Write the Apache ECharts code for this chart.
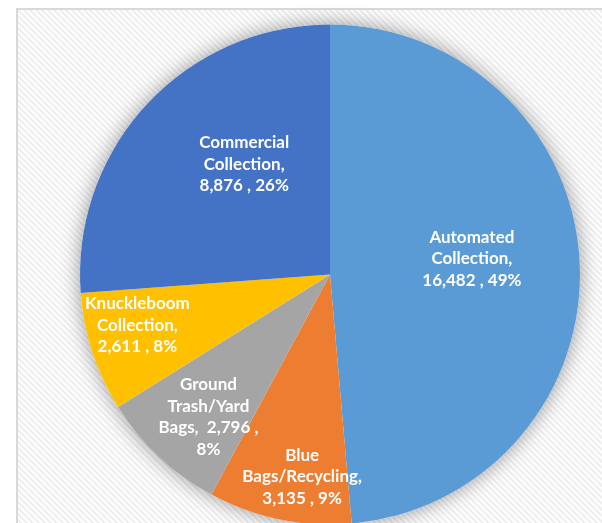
<!DOCTYPE html>
<html>
<head>
<meta charset="utf-8">
<script src="https://cdn.jsdelivr.net/npm/echarts@6/dist/echarts.min.js"></script>
<style>
html,body{margin:0;padding:0;background:#fff;}
#chart{width:602px;height:523px;}
</style>
</head>
<body>
<div id="chart"></div>
<script>
// ---- data ----
const categories = ['Automated Collection', 'Blue Bags/Recycling', 'Ground Trash/Yard Bags', 'Knuckleboom Collection', 'Commercial Collection'];
const values = [16482, 3135, 2796, 2611, 8876];
const colors = ['#5B9BD5', '#ED7D31', '#A5A5A5', '#FFC000', '#4472C4'];

// label line-break layout (how each label wraps)
const labelLines = [
  ['Automated', 'Collection,', '{v} , {p}%'],
  ['Blue', 'Bags/Recycling,', '{v} , {p}%'],
  ['Ground', 'Trash/Yard', 'Bags,  {v} ,', '{p}%'],
  ['Knuckleboom', 'Collection,', '{v} , {p}%'],
  ['Commercial', 'Collection,', '{v} , {p}%']
];
const labelShift = [[14, -10], [-2, 77], [-34, 49], [-71, 11], [8, -23]];

const total = values.reduce((a, b) => a + b, 0);

// striped background pattern
const pc = document.createElement('canvas');
pc.width = 6; pc.height = 6;
const g = pc.getContext('2d');
g.fillStyle = '#ffffff';
g.fillRect(0, 0, 6, 6);
g.strokeStyle = '#eeeeee';
g.lineWidth = 2;
g.beginPath();
g.moveTo(-1, -1); g.lineTo(7, 7);
g.moveTo(-7, -1); g.lineTo(1, 7);
g.moveTo(5, -1); g.lineTo(13, 7);
g.stroke();

const chart = echarts.init(document.getElementById('chart'), null, {renderer: 'canvas'});
chart.setOption({
  animation: false,
  backgroundColor: '#ffffff',
  graphic: [{
    type: 'rect',
    left: 16, top: 8,
    shape: {width: 620, height: 540},
    style: {fill: {image: pc, repeat: 'repeat'}, stroke: '#d9d9d9', lineWidth: 2},
    z: 0, silent: true
  }],
  series: [
    {
      type: 'pie',
      center: [330, 274.5],
      radius: [0, 250],
      silent: true,
      z: 1,
      label: {show: false},
      labelLine: {show: false},
      itemStyle: {color: '#ffffff', shadowBlur: 20, shadowColor: 'rgba(0,0,0,0.4)'},
      data: [{value: total, name: 'shadow'}]
    },
    {
      type: 'pie',
      center: [330, 274.5],
      radius: [0, 250],
      startAngle: 90,
      clockwise: true,
      z: 2,
      percentPrecision: 0,
      itemStyle: {borderWidth: 0},
      label: {
        show: true,
        position: 'inside',
        color: '#ffffff',
        fontFamily: 'Lato',
        fontWeight: 'bold',
        fontSize: 17,
        lineHeight: 21.5,
        align: 'center',
        formatter: function (p) {
          const v = p.value.toLocaleString('en-US');
          return labelLines[p.dataIndex].map(s => s.replace('{v}', v).replace('{p}', Math.round(p.percent))).join('\n');
        }
      },
      labelLine: {show: false},
      labelLayout: function (params) {
        const s = labelShift[params.dataIndex];
        return {dx: s[0], dy: s[1]};
      },
      data: categories.map((c, i) => ({name: c, value: values[i], itemStyle: {color: colors[i]}}))
    }
  ]
});
</script>
</body>
</html>
